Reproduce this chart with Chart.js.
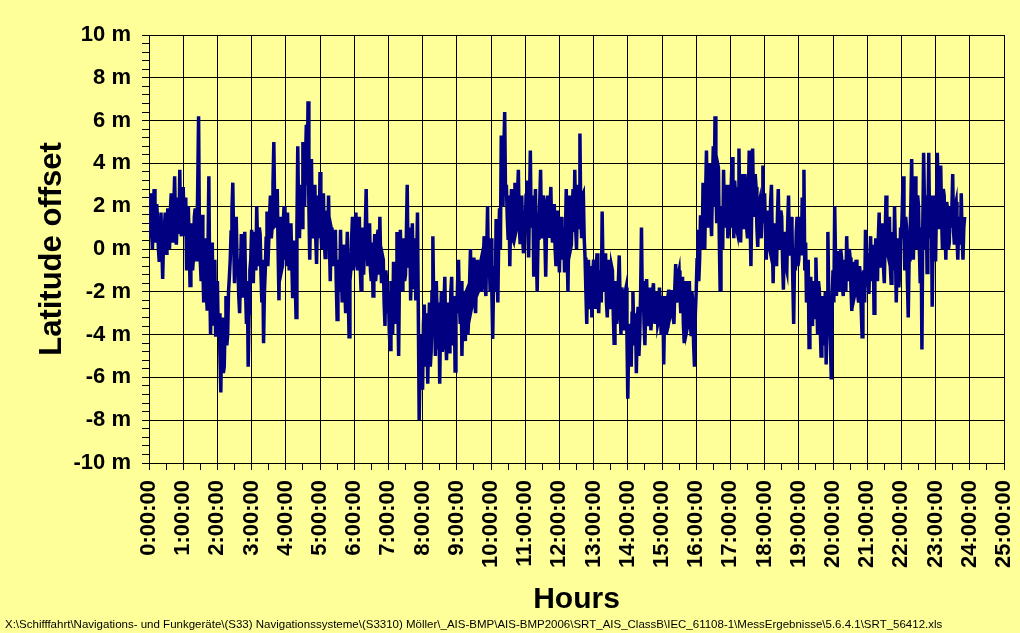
<!DOCTYPE html>
<html>
<head>
<meta charset="utf-8">
<script src="https://cdn.jsdelivr.net/npm/chart.js@4.4.1/dist/chart.umd.min.js"></script>
<style>
  html, body { margin: 0; padding: 0; background: #FFFF99; }
  #wrap { width: 1020px; height: 633px; position: relative; }
</style>
</head>
<body>
<div id="wrap"><canvas id="latChart"></canvas></div>
<script>
// Sample spacing of the readings (hours)
var sampleStepHours = 0.025;

// Latitude offset in metres, 0:00 - 6:00
var offsets00to06 = [
  1.6, 0.5, 2.6, 0.9, 0.0, 1.8, 2.8, 0.8, 0.3, 2.1, 1.4, 0.0, -0.6, 1.2, 1.7, 0.2, -1.4, 0.4, 1.0, 1.7,
  -0.2, 1.0, 1.9, 0.6, 0.0, 1.8, 2.6, 0.9, 0.3, 2.0, 3.4, 1.0, 0.2, 1.5, 2.4, 0.7, 3.7, 0.9, 0.6, 2.2,
  2.9, 1.2, 0.6, 2.4, -1.0, 0.8, 2.0, 0.2, -1.7, 0.5, 1.2, -1.0, -0.4, 1.5, 1.9, -0.5, 0.2, 3.0, 6.2, 0.5,
  -0.6, -1.5, 1.6, -0.8, -2.5, 0.5, -1.3, -2.0, -2.8, 0.0, 3.4, -1.5, -4.0, -1.0, 0.3, -3.5, -2.7, -0.5, -4.1, -2.5,
  -1.5, -4.0, -3.0, -5.0, -6.7, -3.8, -3.2, -5.8, -5.5, -3.5, -2.2, -4.5, -4.0, -2.0, -1.3, -0.5, 0.8, 1.8, 3.1, 0.5,
  -1.6, 0.2, 1.5, -0.5, -0.8, -2.2, -3.0, -1.0, 0.7, -1.2, -2.2, 0.0, 0.8, -2.0, -3.5, -1.5, -5.5, -3.0, -1.0, -0.5,
  0.9, -0.8, -1.6, 0.8, 0.5, -1.0, 2.0, 0.2, -0.8, 1.0, 0.7, -1.2, -2.5, -0.5, -4.4, -2.0, -1.0, 0.5, 1.75, -0.8,
  0.3, 1.5, 2.5, 0.5, 1.0, 3.0, 5.0, 2.0, 1.0, 2.5, 2.8, 0.0, -2.4, 0.5, 1.5, -1.0, -0.8, 1.2, 2.0, -0.5,
  0.5, -0.8, 1.7, 0.0, -1.0, 0.8, 1.2, -0.5, -2.3, -0.5, 0.4, -1.5, -3.2, 1.0, 4.8, 1.5, 0.5, 2.5, 3.0, 1.0,
  5.0, 3.5, 2.0, 4.0, 5.8, 3.0, 6.9, 2.0, -0.5, 2.0, 4.2, 1.0, 0.5, 2.5, 3.0, 0.5, -0.7, 1.5, 2.5, 0.5,
  3.6, 1.0, 0.0, 2.0, 2.6, 0.5, -0.4, 1.2, 1.8, 0.0, 2.5, 0.3, -1.5, 1.0, 0.8, -0.5, -0.8, 0.5, 0.9, -1.5,
  -3.3, -1.0, -0.5, -2.0, 0.9, -1.2, -2.5, 0.2, -0.2, -1.8, -3.0, -0.5, 0.8, -2.0, -4.1, -1.5, -1.0, 0.5, 1.5, -1.0
];
// 6:00 - 12:00
var offsets06to12 = [
  -0.5, 0.8, 1.7, -0.5, -1.0, 0.6, 1.5, -0.8, -1.9, 0.4, 1.0, -1.2, 0.0, 1.0, 2.8, 0.2, -0.8, 0.9, 1.2, -1.0,
  -1.5, 0.3, -2.2, -0.5, 0.7, -1.5, -1.0, 0.6, 0.9, -1.2, 1.5, -0.5, -1.6, -0.3, -0.5, -2.5, -3.6, -1.0, -1.5, -3.0,
  -2.0, -3.8, -4.7, -1.5, -2.5, -4.0, -0.6, -2.8, -3.5, -1.5, 0.8, -2.5, -5.0, -1.0, 0.9, -1.0, -1.9, 0.2, 0.5, -1.5,
  -1.2, 0.6, 3.0, -0.8, 0.0, 1.0, -2.4, -0.5, 1.2, -1.0, -1.8, 0.5, -2.4, -0.8, 1.7, -3.0, -8.0, -5.5, -4.0, -6.5,
  -6.5, -3.5, -2.6, -5.5, -5.0, -3.0, -6.3, -4.0, -2.5, -5.5, -4.8, -2.0, 0.6, -2.5, -3.5, -5.0, -1.5, -3.0, -4.7, -2.5,
  -6.3, -3.5, -2.0, -4.8, -4.5, -2.5, -1.3, -4.0, -5.2, -3.0, -2.5, -4.8, -4.2, -2.0, -1.3, -4.5, -3.8, -2.2, -5.7, -2.5,
  -3.0, -1.5, -0.5, -2.5, -3.5, -1.5, -5.0, -2.8, -2.0, -4.0, -4.3, -2.0, -1.9, -4.0, -3.2, -1.5, 0.0, -2.8, -2.6, -1.0,
  -0.4, -2.5, -3.0, -1.2, -0.5, -2.0, -1.9, -0.8, -0.6, -2.0, -1.5, -0.5, 0.6, -1.5, -2.2, 0.0, 2.0, -1.2, -0.5, -2.0,
  0.5, -2.0, -4.2, -1.5, -0.8, -2.0, 1.4, -0.5, -2.5, 0.5, 1.9, 0.0, 5.3, 3.0, 2.0, 4.5, 6.4, 2.5, 3.0, 1.5,
  0.5, 2.5, -0.8, 1.5, 2.8, 0.5, 0.4, 2.2, 3.1, 0.8, 1.0, 2.5, 3.7, 1.2, 0.3, 2.0, 2.5, 0.5, -0.2, 1.8,
  1.0, 2.5, 3.2, 0.8, -0.4, 2.0, 4.6, 1.0, 1.5, 2.5, -1.3, 1.2, 2.8, 0.0, -2.0, 0.5, 1.0, 2.2, 3.7, 1.0,
  0.5, 2.5, 2.2, 0.5, -1.3, 1.0, 2.5, 0.8, 0.6, 2.0, 2.9, 0.8, 0.3, 1.5, 2.1, 0.0, -0.8, 1.5, 1.8, 0.2
];
// 12:00 - 18:00
var offsets12to18 = [
  -1.1, 0.8, 1.5, -0.5, 0.0, 1.0, -1.1, 0.5, 2.8, 0.0, -2.0, 1.0, 2.5, 0.0, 0.2, 1.8, 2.8, 0.8, 3.7, 1.0,
  0.0, 2.0, 3.0, 1.0, 5.4, 1.5, 0.5, 2.5, 2.6, 0.5, -0.4, -2.0, -3.5, -1.0, -0.5, -2.8, -2.5, -0.8, -3.2, -1.2,
  -0.5, -2.0, -2.8, -1.0, -0.2, -2.0, -3.0, -1.5, -1.0, -2.5, 1.75, -1.0, -2.0, -0.5, -0.2, -2.5, -3.2, -1.2, -0.5, -2.8,
  -2.5, -0.8, -1.0, -3.0, -4.4, -2.0, -1.5, -3.5, -3.0, -1.5, -0.3, -2.5, -4.0, -1.8, -2.2, -3.5, -3.8, -2.0, -1.8, -4.0,
  -7.0, -4.5, -3.5, -5.0, -5.5, -3.0, -2.0, -4.0, -4.5, -3.0, -5.8, -3.5, -2.7, -5.0, -4.0, -2.0, 1.0, -2.5, -1.5, -3.5,
  -4.5, -2.5, -1.4, -3.0, -3.6, -2.2, -1.8, -3.8, -3.2, -2.0, -1.6, -3.0, -3.5, -2.2, -2.0, -3.5, -3.3, -1.8, -2.5, -4.0,
  -3.0, -2.2, -5.4, -3.0, -2.2, -4.0, -3.6, -2.2, -1.9, -3.2, -3.0, -2.0, -2.0, -3.2, -3.5, -1.8, -0.7, -2.5, -2.2, -1.2,
  -1.0, -2.2, -3.0, -1.8, -1.3, -3.5, -4.4, -2.5, -1.5, -3.8, -3.6, -2.0, -1.5, -3.2, -4.0, -2.0, -2.5, -4.5, -5.5, -3.0,
  -2.0, -0.5, 0.9, -1.5, -0.5, 1.5, 1.5, 0.0, 3.1, 1.0, 0.0, 2.5, 4.6, 1.8, 1.0, 3.5, 4.0, 1.5, 0.6, 3.0,
  4.8, 2.0, 6.2, 3.0, 1.2, 4.0, 3.8, 0.5, -1.9, 1.0, 2.0, 0.0, 3.7, 1.5, 1.0, 3.0, 2.5, 0.5, 0.9, 3.0,
  1.0, 3.0, 4.3, 2.0, 0.5, 3.2, 2.5, 1.0, 0.8, 2.8, 4.7, 2.0, 0.3, 2.5, 3.5, 1.5, 1.0, 3.5, 2.8, 1.0,
  0.5, 2.5, 4.6, 1.5, -0.8, 2.0, 4.7, 2.2, 1.5, 3.5, 2.9, 1.0, 0.1, 2.0, 2.2, 0.8, 0.5, 2.5, 3.9, 1.2
];
// 18:00 - end of log
var offsets18to24 = [
  2.6, 0.8, -0.5, 1.5, 1.8, 0.2, 0.0, 2.2, 3.0, 0.5, -1.6, 1.0, 1.2, -0.5, -0.8, 1.5, 2.8, 0.5, 0.0, 1.8,
  1.5, -0.5, -1.9, 0.5, 0.8, -0.8, -1.0, 1.2, 2.5, 0.0, -0.3, 1.5, 1.0, -1.5, -3.5, -0.5, -1.0, 0.8, 1.5, -0.8,
  -0.5, 0.8, 1.5, -0.3, 2.4, 0.5, 3.7, -1.0, 0.3, -2.5, -2.0, -0.5, -4.6, -2.0, -1.3, -3.0, -3.6, -1.5, -1.8, -3.2,
  -0.4, -2.2, -4.0, -1.5, -1.9, -3.5, -5.0, -2.5, -2.2, -4.5, -4.0, -2.0, -5.4, -3.0, 0.8, -2.0, -3.0, -4.5, -6.1, -2.5,
  -1.0, -2.5, 2.0, -0.5, -2.2, -0.6, -0.1, -2.0, -1.5, 0.0, -0.4, -1.8, -2.2, -0.5, -0.8, -2.0, 0.6, -1.0, -1.5, 0.0,
  -0.4, -1.8, -2.9, -1.2, -0.6, -2.2, -2.0, -0.5, -0.8, -2.2, -2.5, -0.8, -1.2, -2.8, -4.1, -2.0, -1.0, -2.5, 0.9, -1.2,
  -0.2, -1.5, -2.1, -0.5, 0.6, -1.5, -1.0, 0.2, -3.0, -1.0, 0.5, -1.2, -1.5, 0.5, 1.7, -0.8, -0.5, 0.8, 1.2, -0.8,
  -1.6, 0.5, 2.5, 0.0, -0.2, 1.0, 1.5, -0.8, -1.6, 0.8, 0.4, -1.0, 2.0, 0.0, -2.5, -0.5, 0.5, -1.8, -1.0, 1.0,
  0.5, 1.8, 3.4, 0.5, -1.0, 1.5, 1.0, -1.5, -3.2, -0.5, 0.5, 2.0, 4.2, 1.0, -0.5, 1.5, 3.4, 0.8, 0.0, 2.5,
  2.0, 0.0, -1.6, 1.0, -4.7, 1.0, 4.5, 2.0, 0.0, 2.5, -1.1, 1.5, 4.5, 1.0, 0.5, 2.5, -2.7, 0.5, 2.5, -0.5,
  -0.5, 2.0, 4.5, 2.5, 1.0, 3.0, 3.9, 1.5, 0.0, 2.8, 2.5, 0.8, -0.5, 2.2, 1.8, 0.0, 0.3, 2.0, 1.0, 1.8,
  3.5, 0.8, 0.2, 2.0, 2.2, 0.5, -0.5, 1.2, 1.5, 0.2, 2.6, 0.5, -0.5, 1.0, 1.5
];

var filePath = 'X:\\Schifffahrt\\Navigations- und Funkger\u00e4te\\(S33) Navigationssysteme\\(S3310) M\u00f6ller\\_AIS-BMP\\AIS-BMP2006\\SRT_AIS_ClassB\\IEC_61108-1\\MessErgebnisse\\5.6.4.1\\SRT_56412.xls';

var allOffsets = offsets00to06.concat(offsets06to12, offsets12to18, offsets18to24);
var points = allOffsets.map(function (v, i) {
  return { x: i * sampleStepHours, y: v };
});

var FONT = "'Liberation Sans', Arial, sans-serif";

function isMultiple(v, m) {
  var q = v / m;
  return Math.abs(q - Math.round(q)) < 1e-6;
}

// small path line under the chart
var footerPlugin = {
  id: 'footer',
  afterDraw: function (chart) {
    var c = chart.ctx;
    c.save();
    c.font = '11.5px ' + FONT;
    c.fillStyle = '#000';
    c.textBaseline = 'alphabetic';
    c.textAlign = 'left';
    c.fillText(filePath, 5, 628);
    c.restore();
  }
};

var ctx = document.getElementById('latChart').getContext('2d');
var latChart = new Chart(ctx, {
  type: 'line',
  data: {
    datasets: [{
      label: 'Latitude offset',
      data: points,
      borderColor: '#000080',
      backgroundColor: '#000080',
      borderWidth: 3.5,
      pointRadius: 0,
      tension: 0,
      fill: false
    }]
  },
  options: {
    responsive: true,
    maintainAspectRatio: false,
    animation: false,
    layout: { padding: { left: 0, right: 16, top: 35, bottom: 15 } },
    plugins: {
      legend: { display: false },
      tooltip: { enabled: false }
    },
    scales: {
      x: {
        type: 'linear',
        min: 0,
        max: 25,
        ticks: {
          stepSize: 0.5,
          autoSkip: false,
          minRotation: 90,
          maxRotation: 90,
          padding: 10,
          color: '#000',
          font: { family: FONT, size: 22, weight: 'bold' },
          callback: function (v) {
            return isMultiple(v, 1) ? Math.round(v) + ':00:00' : '';
          }
        },
        grid: {
          color: function (c) { return isMultiple(c.tick.value, 1) ? '#000' : 'rgba(0,0,0,0)'; },
          tickColor: '#000',
          tickLength: 7,
          lineWidth: 1
        },
        border: { color: '#000', width: 1 },
        title: {
          display: true,
          text: 'Hours',
          color: '#000',
          font: { family: FONT, size: 30, weight: 'bold' },
          padding: { top: 0, bottom: 0 }
        },
        afterFit: function (s) {
          s.height = 155;
          s.paddingLeft = 0;
          s.paddingRight = 0;
        }
      },
      y: {
        type: 'linear',
        min: -10,
        max: 10,
        ticks: {
          stepSize: 0.4,
          autoSkip: false,
          padding: 11,
          color: '#000',
          font: { family: FONT, size: 22, weight: 'bold' },
          callback: function (v) {
            return isMultiple(v, 2) ? Math.round(v) + ' m' : '';
          }
        },
        grid: {
          color: function (c) { return isMultiple(c.tick.value, 2) ? '#000' : 'rgba(0,0,0,0)'; },
          tickColor: '#000',
          tickLength: 7,
          lineWidth: 1
        },
        border: { color: '#000', width: 1 },
        title: {
          display: true,
          text: 'Latitude offset',
          color: '#000',
          font: { family: FONT, size: 31, weight: 'bold' },
          padding: { top: 34, bottom: 0 }
        },
        afterFit: function (s) {
          s.width = 149;
          s.paddingTop = 0;
          s.paddingBottom = 0;
        }
      }
    }
  },
  plugins: [footerPlugin]
});
</script>
</body>
</html>
